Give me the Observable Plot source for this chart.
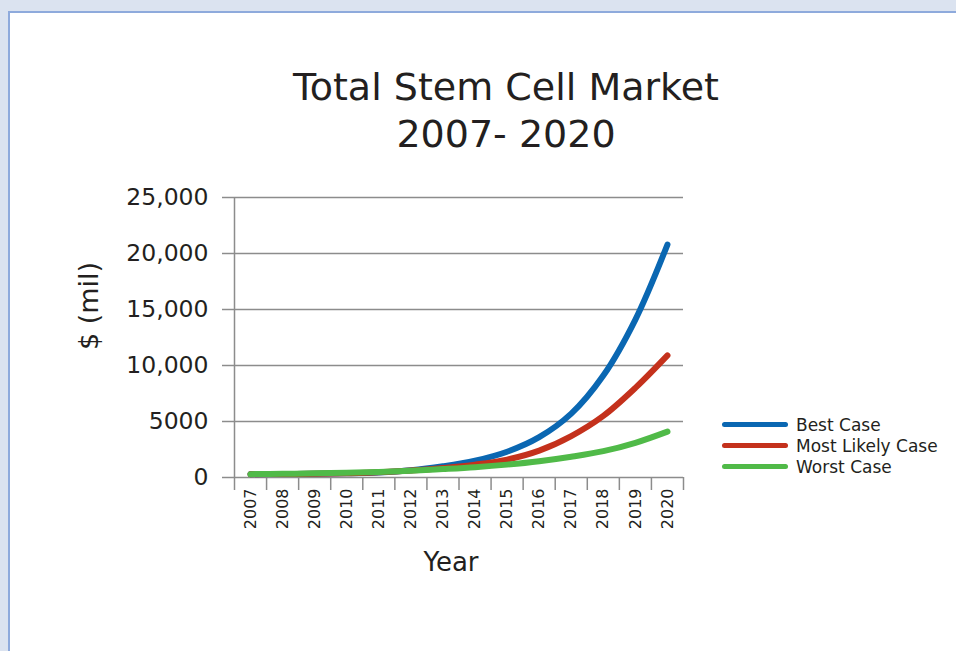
<!DOCTYPE html>
<html>
<head>
<meta charset="utf-8">
<script src="https://cdn.jsdelivr.net/npm/d3@7"></script>
<script src="https://cdn.jsdelivr.net/npm/@observablehq/plot@0.6"></script>
<style>
  html, body { margin: 0; padding: 0; }
  body { width: 956px; height: 651px; background: #dbe3f0; position: relative; overflow: hidden; font-family: "DejaVu Sans", sans-serif; color: #231f20; }
  #panel { position: absolute; left: 8px; top: 11px; width: 1000px; height: 700px; background: #fff; border: 2px solid #8eaadc; box-sizing: border-box; }
  #title { position: absolute; left: 206px; width: 600px; top: 64px; text-align: center; font-size: 38px; line-height: 47px; }
  #ylabel { position: absolute; left: 88px; top: 306px; transform: translate(-50%, -50%) rotate(-90deg); font-size: 27px; white-space: nowrap; }
  #xlabel { position: absolute; left: 451px; top: 562px; transform: translate(-50%, -50%); font-size: 26px; }
  #chart { position: absolute; left: 0; top: 0; }
  #legend { position: absolute; left: 722px; top: 414px; font-size: 17px; }
  .item { display: flex; align-items: center; height: 21px; }
  .sw { width: 66px; height: 5px; border-radius: 3px; margin-right: 8px; }
</style>
</head>
<body>
<div id="panel"></div>
<div id="title">Total Stem Cell Market<br>2007- 2020</div>
<div id="ylabel">$ (mil)</div>
<div id="xlabel">Year</div>
<div id="chart"></div>
<div id="legend"></div>
<script>
const years = [2007, 2008, 2009, 2010, 2011, 2012, 2013, 2014, 2015, 2016, 2017, 2018, 2019, 2020];
const seriesNames = ["Best Case", "Most Likely Case", "Worst Case"];
const seriesColors = ["#0a67b2", "#c4311c", "#50ba48"];
const bestCase = [300, 310, 330, 370, 450, 640, 1000, 1500, 2300, 3600, 5700, 9100, 14100, 20800];
const mostLikelyCase = [300, 310, 330, 380, 460, 620, 850, 1150, 1600, 2400, 3700, 5500, 8000, 10900];
const worstCase = [300, 330, 370, 420, 500, 600, 750, 920, 1150, 1450, 1850, 2350, 3100, 4100];
const yTicks = [0, 5000, 10000, 15000, 20000, 25000];
const yTickLabels = ["0", "5000", "10,000", "15,000", "20,000", "25,000"];

const seriesValues = [bestCase, mostLikelyCase, worstCase];
const rows = [];
seriesNames.forEach((name, s) => years.forEach((yr, i) => rows.push({series: name, year: yr, value: seriesValues[s][i]})));
const bounds = [years[0] - 0.5, ...years.map(y => y + 0.5)];
const grey = "#8c8c8c";

const chart = Plot.plot({
  width: 956,
  height: 651,
  marginLeft: 234,
  marginRight: 273,
  marginTop: 197,
  marginBottom: 174,
  style: {background: "transparent", fontFamily: "'DejaVu Sans', sans-serif", color: "#231f20", overflow: "visible"},
  x: {type: "linear", domain: [bounds[0], bounds[bounds.length - 1]]},
  y: {domain: [0, 25000]},
  color: {domain: seriesNames, range: seriesColors},
  marks: [
    Plot.gridY(yTicks, {stroke: grey, strokeOpacity: 1, strokeWidth: 1.5}),
    Plot.axisY(yTicks, {tickSize: 12, tickPadding: 14, stroke: grey, strokeWidth: 1.5, fill: "#231f20", fontSize: 23.5, tickFormat: d => yTickLabels[yTicks.indexOf(d)], label: null}),
    Plot.ruleX([bounds[0]], {y1: 0, y2: 25000, stroke: grey, strokeWidth: 1.5}),
    Plot.axisX(bounds, {tickSize: 13, stroke: grey, strokeWidth: 1.5, tickFormat: () => "", label: null}),
    Plot.axisX(years, {tickSize: 0, tickPadding: 11, tickRotate: -90, fontSize: 16, fill: "#231f20", tickFormat: d => String(d), label: null}),
    Plot.line(rows, {x: "year", y: "value", z: "series", stroke: "series", strokeWidth: 6, curve: "catmull-rom", strokeLinecap: "round", strokeLinejoin: "round"})
  ]
});
document.getElementById("chart").appendChild(chart);

const legend = document.getElementById("legend");
seriesNames.forEach((name, i) => {
  const item = document.createElement("div");
  item.className = "item";
  const sw = document.createElement("div");
  sw.className = "sw";
  sw.style.background = seriesColors[i];
  const t = document.createElement("span");
  t.textContent = name;
  item.appendChild(sw);
  item.appendChild(t);
  legend.appendChild(item);
});
</script>
</body>
</html>
